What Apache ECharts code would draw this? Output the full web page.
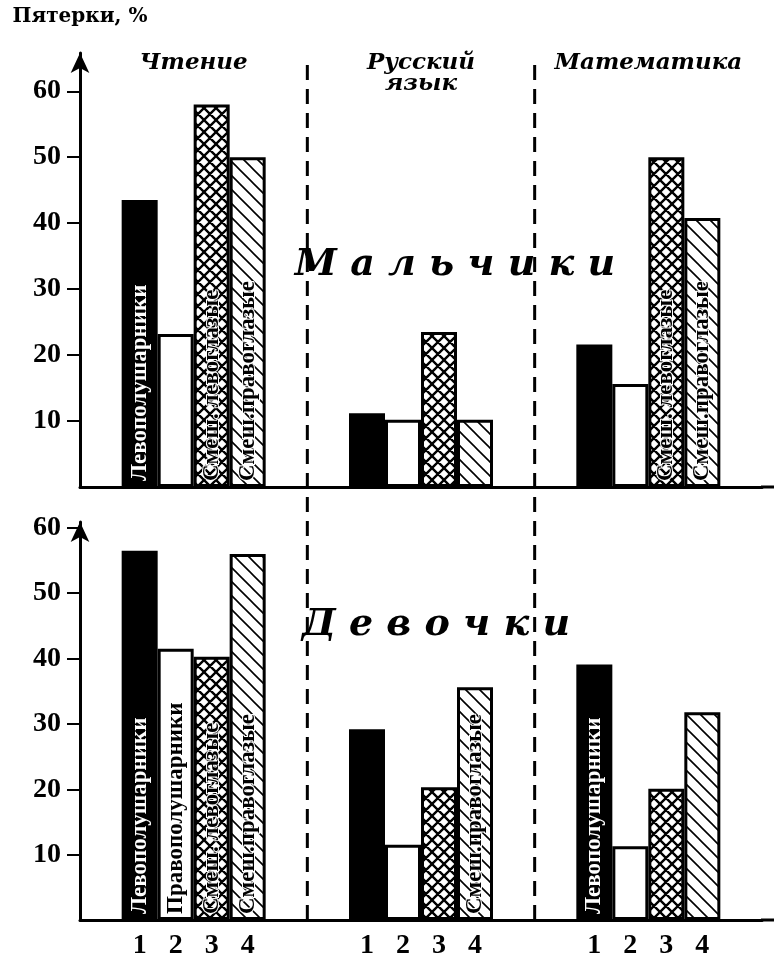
<!DOCTYPE html>
<html><head><meta charset="utf-8">
<script src="https://cdn.jsdelivr.net/npm/echarts@6/dist/echarts.min.js"></script>
<style>html,body{margin:0;padding:0;background:#fff}#c{width:774px;height:961px}</style>
</head><body><div id="c"></div>
<script>
// ---- data ----
const subjects = ['Чтение', 'Русский\nязык', 'Математика'];
const barNumbers = ['1', '2', '3', '4'];
const yTicks = [10, 20, 30, 40, 50, 60];
const yAxisName = 'Пятерки, %';
const boysTitle = 'М а л ь ч и к и';
const girlsTitle = 'Д е в о ч к и';

const boysLeftHemi      = [43.5, 11.2, 21.6];
const boysRightHemi     = [23.2, 10.2, 15.6];
const boysMixedLeftEye  = [58.0, 23.5, 50.0];
const boysMixedRightEye = [50.0, 10.2, 40.8];

const girlsLeftHemi      = [56.5, 29.2, 39.1];
const girlsRightHemi     = [41.5, 11.5, 11.3];
const girlsMixedLeftEye  = [40.3, 20.3, 20.1];
const girlsMixedRightEye = [56.0, 35.6, 31.8];

const boysBarText = [
  ['Левополушарники', '', ''],
  ['', '', ''],
  ['Смеш. левоглазые', '', 'Смеш. левоглазые'],
  ['Смеш.правоглазые', '', 'Смеш.правоглазые']
];
const girlsBarText = [
  ['Левополушарники', '', 'Левополушарники'],
  ['Правополушарники', '', ''],
  ['Смеш. левоглазые', '', ''],
  ['Смеш.правоглазые', 'Смеш.правоглазые', '']
];

// ---- patterns ----
function tile(size, lw, dirs) {
  const c = document.createElement('canvas');
  c.width = c.height = size;
  const g = c.getContext('2d');
  g.fillStyle = '#fff'; g.fillRect(0, 0, size, size);
  g.strokeStyle = '#000'; g.lineWidth = lw; g.beginPath();
  for (let k = -1; k <= 1; k++) {
    if (dirs.indexOf('\\') >= 0) { g.moveTo(k * size - 2, -2); g.lineTo(k * size + size + 2, size + 2); }
    if (dirs.indexOf('/') >= 0) { g.moveTo(k * size + size + 2, -2); g.lineTo(k * size - 2, size + 2); }
  }
  g.stroke();
  return c;
}
const crossTile = tile(12, 2.4, '\\/');
const diagTile = tile(14, 1.6, '\\');

const styles = [
  { color: '#000', text: '#fff' },
  { color: '#fff', text: '#000' },
  { color: { image: crossTile, repeat: 'repeat' }, text: '#000' },
  { color: { image: diagTile, repeat: 'repeat' }, text: '#000' }
];

const numFont = { fontFamily: 'Liberation Serif', fontWeight: 'bold', color: '#000' };

function makeSeries(xIdx, yIdx, valueSets, texts) {
  return valueSets.map((vals, i) => ({
    type: 'bar', xAxisIndex: xIdx, yAxisIndex: yIdx,
    data: vals, barWidth: 36, barGap: '0%',
    itemStyle: { color: styles[i].color, borderColor: '#000', borderWidth: 3 },
    label: {
      show: true, position: 'insideBottom', rotate: 90, align: 'left', verticalAlign: 'middle',
      distance: 6, formatter: p => texts[i][p.dataIndex],
      color: styles[i].text, fontFamily: 'Liberation Serif', fontWeight: 'bold', fontSize: 23,
      textBorderColor: i === 0 ? 'transparent' : '#fff', textBorderWidth: i === 0 ? 0 : 2
    },
    silent: true, animation: false
  }));
}

function yAxisFor(gridIndex, max, withName) {
  const ax = {
    type: 'value', gridIndex, min: 0, max, interval: 10,
    axisLine: { show: true, symbol: ['none', 'arrow'], symbolSize: [14, 20], lineStyle: { color: '#000', width: 3 } },
    axisTick: { show: true, length: 13, lineStyle: { color: '#000', width: 2 }, customValues: yTicks },
    axisLabel: { margin: 19, fontSize: 28, customValues: yTicks, ...numFont },
    splitLine: { show: false }
  };
  if (withName) {
    ax.name = yAxisName; ax.nameLocation = 'end'; ax.nameGap = 26;
    ax.nameTextStyle = { fontFamily: 'DejaVu Serif', fontWeight: 'bold', fontSize: 20, color: '#000', align: 'center', verticalAlign: 'bottom' };
  }
  return ax;
}

const chart = echarts.init(document.getElementById('c'), null, { renderer: 'canvas' });
const topGrid = { left: 80, right: 12, top: 53, height: 434 };
const botGrid = { left: 80, right: 12, top: 522, height: 398 };

chart.setOption({
  animation: false,
  backgroundColor: '#fff',
  grid: [topGrid, botGrid],
  xAxis: [
    { type: 'category', gridIndex: 0, data: subjects, axisLine: { lineStyle: { color: '#000', width: 3 } },
      axisTick: { show: false }, axisLabel: { show: false } },
    { type: 'category', gridIndex: 0, data: subjects, position: 'top', axisLine: { show: false }, axisTick: { show: false },
      axisLabel: { interval: 0, inside: true, margin: 0, verticalAlign: 'top', fontFamily: 'DejaVu Serif', fontStyle: 'italic',
        fontWeight: 'bold', fontSize: 23, lineHeight: 21, color: '#000' } },
    { type: 'category', gridIndex: 1, data: subjects, axisLine: { lineStyle: { color: '#000', width: 3 } },
      axisTick: { show: false },
      axisLabel: { interval: 0, margin: 12, formatter: () => barNumbers.map(n => '{n|' + n + '}').join(''),
        rich: { n: { width: 36, align: 'center', fontSize: 28, ...numFont } } } }
  ],
  yAxis: [yAxisFor(0, 65.8, true), yAxisFor(1, 60.9, false)],
  series: [
    ...makeSeries(0, 0, [boysLeftHemi, boysRightHemi, boysMixedLeftEye, boysMixedRightEye], boysBarText),
    ...makeSeries(2, 1, [girlsLeftHemi, girlsRightHemi, girlsMixedLeftEye, girlsMixedRightEye], girlsBarText)
  ]
});

// decorations computed from the axes
const W = 774;
const cx = subjects.map((s, i) => chart.convertToPixel({ xAxisIndex: 0 }, i));
const bounds = [(cx[0] + cx[1]) / 2, (cx[1] + cx[2]) / 2];
const yTop0 = chart.convertToPixel({ yAxisIndex: 0 }, 0);
const yBot0 = chart.convertToPixel({ yAxisIndex: 1 }, 0);
const gridRightX = W - topGrid.right;
const graphics = [];
bounds.forEach(x => graphics.push({
  type: 'line', shape: { x1: x, y1: topGrid.top + 12, x2: x, y2: yBot0 + 6 },
  style: { stroke: '#000', lineWidth: 3, lineDash: [15, 9] }, silent: true
}));
[yTop0, yBot0].forEach(y => graphics.push({
  type: 'line', shape: { x1: gridRightX - 1, y1: y, x2: W, y2: y },
  style: { stroke: '#000', lineWidth: 3 }, silent: true
}));
graphics.push({ type: 'text', x: 455, y: 265, style: { text: boysTitle, fill: '#000', font: 'italic bold 38px "DejaVu Serif"', textAlign: 'center', textVerticalAlign: 'middle' }, silent: true });
graphics.push({ type: 'text', x: 436, y: 625, style: { text: girlsTitle, fill: '#000', font: 'italic bold 38px "DejaVu Serif"', textAlign: 'center', textVerticalAlign: 'middle' }, silent: true });
chart.setOption({ graphic: graphics });
</script>
</body></html>
